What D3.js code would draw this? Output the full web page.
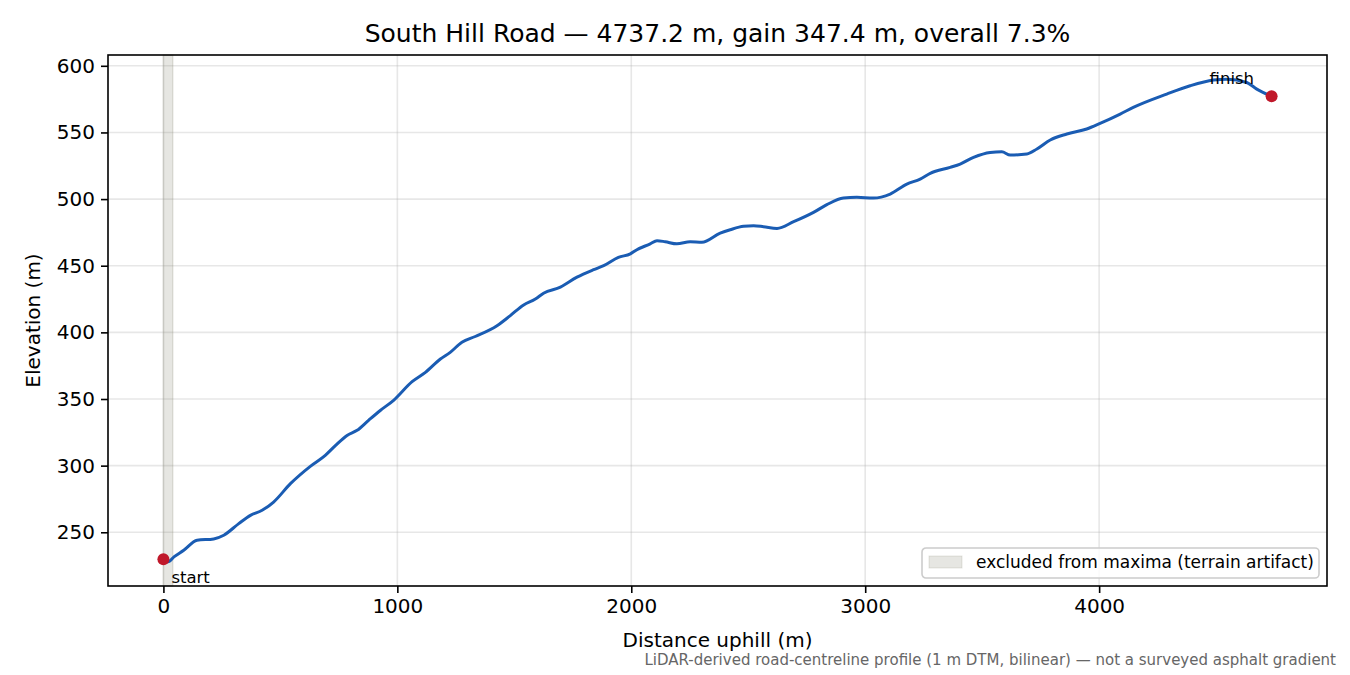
<!DOCTYPE html>
<html>
<head>
<meta charset="utf-8">
<script src="https://cdn.jsdelivr.net/npm/d3@7"></script>
<style>
  body { margin: 0; background: #fff; }
  text { font-family: "DejaVu Sans", sans-serif; }
</style>
</head>
<body>
<script>
// Profile (distance m, elevation m)
const distance = [0, 20, 45, 87, 144, 215, 258, 322, 372, 422, 471, 543, 628, 692, 735, 785, 828, 877, 927, 984,
  1063, 1120, 1184, 1226, 1276, 1333, 1426, 1483, 1540, 1590, 1625, 1697, 1768, 1839, 1882, 1945, 1996,
  2024, 2081, 2110, 2145, 2195, 2252, 2302, 2380, 2423, 2480, 2523, 2565, 2623, 2694, 2779, 2836, 2907,
  2964, 3035, 3107, 3178, 3235, 3278, 3363, 3406, 3463, 3534, 3584, 3620, 3691, 3734, 3791, 3862, 3947,
  4004, 4090, 4146, 4289, 4389, 4489, 4546, 4631, 4674, 4737.2];
const elevation = [229.8, 227.8, 231.5, 236.5, 244, 245, 247.8, 256.5, 262.7, 266.5, 272.7, 286.5, 299.5, 307.7, 315, 322.7,
  326.5, 334, 341.4, 349, 363, 370, 380, 385, 392.6, 396.9, 405, 412.6, 420.6, 425, 429.4, 433.9, 441.4,
  447, 450, 456.3, 458.9, 462, 466.4, 468.8, 468, 466.4, 468, 467.6, 474.4, 477, 479.6, 480, 479.3, 478,
  483, 490, 495.8, 500.8, 501.3, 500.8, 503.8, 511.3, 515, 519.3, 523.8, 526.3, 531.3, 535, 535.5, 533,
  533.8, 537.6, 544.3, 548.8, 552.6, 556.8, 563.8, 568.8, 578.8, 585, 589.3, 590, 587.5, 582.5, 577.2];
const excludedSpan = [0, 40];
const xTicks = [0, 1000, 2000, 3000, 4000];
const yTicks = [250, 300, 350, 400, 450, 500, 550, 600];
const endpoints = [
  { name: "start", d: 0, e: 229.8 },
  { name: "finish", d: 4737.2, e: 577.2 }
];

const W = 1350, H = 675;
const m = { left: 108, right: 23, top: 55, bottom: 89 };
const iw = W - m.left - m.right, ih = H - m.top - m.bottom;

const svg = d3.select("body").append("svg")
  .attr("width", W)
  .attr("height", H);

// matplotlib-style 5% padding
const xr = d3.extent(distance), yr = d3.extent(elevation);
const xp = (xr[1] - xr[0]) * 0.05, yp = (yr[1] - yr[0]) * 0.05;
const x = d3.scaleLinear().domain([xr[0] - xp, xr[1] + xp]).range([m.left, m.left + iw]);
const y = d3.scaleLinear().domain([yr[0] - yp, yr[1] + yp]).range([m.top + ih, m.top]);

// Grid
svg.append("g").selectAll("line").data(xTicks).join("line")
  .attr("x1", d => x(d)).attr("x2", d => x(d))
  .attr("y1", m.top).attr("y2", m.top + ih)
  .attr("stroke", "#b0b0b0").attr("stroke-opacity", 0.3).attr("stroke-width", 1.6);
svg.append("g").selectAll("line").data(yTicks).join("line")
  .attr("x1", m.left).attr("x2", m.left + iw)
  .attr("y1", d => y(d)).attr("y2", d => y(d))
  .attr("stroke", "#b0b0b0").attr("stroke-opacity", 0.3).attr("stroke-width", 1.6);

// Excluded band
svg.append("rect")
  .attr("x", x(excludedSpan[0]))
  .attr("width", x(excludedSpan[1]) - x(excludedSpan[0]))
  .attr("y", m.top).attr("height", ih)
  .attr("fill", "#808070").attr("fill-opacity", 0.2)
  .attr("stroke", "#808070").attr("stroke-opacity", 0.2).attr("stroke-width", 1.5);

// Profile line
const line = d3.line()
  .x((d, i) => x(distance[i]))
  .y((d, i) => y(elevation[i]))
  .curve(d3.curveMonotoneX);
svg.append("path")
  .datum(elevation)
  .attr("d", line)
  .attr("fill", "none")
  .attr("stroke", "#1a5cb3")
  .attr("stroke-width", 3)
  .attr("stroke-linejoin", "round");

// Endpoints
svg.append("g").selectAll("circle").data(endpoints).join("circle")
  .attr("cx", d => x(d.d)).attr("cy", d => y(d.e))
  .attr("r", 6).attr("fill", "#c0182a");

svg.append("text")
  .attr("x", x(endpoints[0].d) + 8).attr("y", y(endpoints[0].e) + 24)
  .attr("font-size", 16.5).attr("fill", "#000")
  .text(endpoints[0].name);
svg.append("text")
  .attr("x", x(endpoints[1].d) - 62).attr("y", y(endpoints[1].e) - 12)
  .attr("font-size", 16.5).attr("fill", "#000")
  .text(endpoints[1].name);

// Axes
const xAxis = svg.append("g")
  .attr("transform", `translate(0,${m.top + ih})`)
  .call(d3.axisBottom(x).tickValues(xTicks).tickSize(7).tickPadding(6).tickFormat(d3.format("d")));
const yAxis = svg.append("g")
  .attr("transform", `translate(${m.left},0)`)
  .call(d3.axisLeft(y).tickValues(yTicks).tickSize(7).tickPadding(6).tickFormat(d3.format("d")));
[xAxis, yAxis].forEach(g => {
  g.select(".domain").remove();
  g.selectAll(".tick line").attr("stroke", "#000").attr("stroke-width", 1.6);
  g.selectAll(".tick text").attr("font-size", 20).attr("fill", "#000")
    .attr("font-family", "DejaVu Sans, sans-serif");
});

// Frame
svg.append("rect")
  .attr("x", m.left).attr("y", m.top).attr("width", iw).attr("height", ih)
  .attr("fill", "none").attr("stroke", "#000").attr("stroke-width", 1.6);

// Legend
const lg = svg.append("g").attr("transform", `translate(${m.left + iw - 405},${m.top + ih - 38})`);
lg.append("rect")
  .attr("width", 397).attr("height", 30).attr("rx", 4)
  .attr("fill", "#fff").attr("fill-opacity", 0.8)
  .attr("stroke", "#cccccc").attr("stroke-width", 1.6);
lg.append("rect")
  .attr("x", 7).attr("y", 8).attr("width", 33).attr("height", 12)
  .attr("fill", "#808070").attr("fill-opacity", 0.2)
  .attr("stroke", "#808070").attr("stroke-opacity", 0.2);
lg.append("text")
  .attr("x", 54).attr("y", 20)
  .attr("font-size", 17).attr("fill", "#000")
  .text("excluded from maxima (terrain artifact)");

// Titles and labels
svg.append("text")
  .attr("x", m.left + iw / 2).attr("y", 42)
  .attr("text-anchor", "middle").attr("font-size", 25).attr("fill", "#000")
  .text("South Hill Road \u2014 4737.2 m, gain 347.4 m, overall 7.3%");
svg.append("text")
  .attr("x", m.left + iw / 2).attr("y", 647)
  .attr("text-anchor", "middle").attr("font-size", 20).attr("fill", "#000")
  .text("Distance uphill (m)");
svg.append("text")
  .attr("transform", `translate(40,${m.top + ih / 2}) rotate(-90)`)
  .attr("text-anchor", "middle").attr("font-size", 20).attr("fill", "#000")
  .text("Elevation (m)");
svg.append("text")
  .attr("x", 1336).attr("y", 665)
  .attr("text-anchor", "end").attr("font-size", 15).attr("fill", "#666")
  .text("LiDAR-derived road-centreline profile (1 m DTM, bilinear) \u2014 not a surveyed asphalt gradient");
</script>
</body>
</html>
